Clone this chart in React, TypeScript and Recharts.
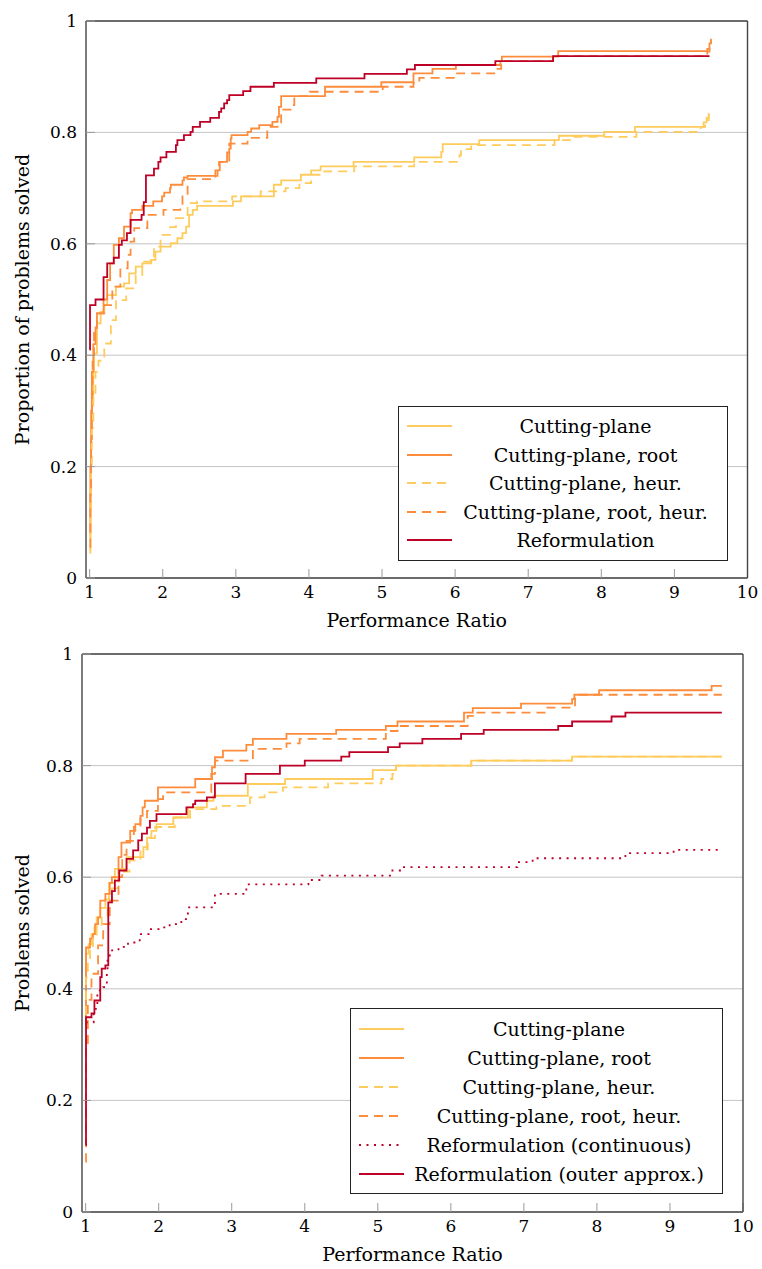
import React from 'react';
import { LineChart, Line, XAxis, YAxis, CartesianGrid, Legend } from 'recharts';

const YELLOW = '#FECC5C';
const ORANGE = '#FD8D3C';
const RED = '#BD0026';
const FONT = '"DejaVu Serif", serif';

const xTicks = [1, 2, 3, 4, 5, 6, 7, 8, 9, 10];
const yTicks = [0, 0.2, 0.4, 0.6, 0.8, 1];

type P = [number, number];

// ---------- Top chart ----------
const p1CuttingPlane: P[] = [[1.0,0.05],[1.01,0.15],[1.02,0.25],[1.03,0.32],[1.05,0.37],[1.06,0.403],[1.1,0.457],[1.15,0.478],[1.2,0.49],[1.24,0.508],[1.36,0.523],[1.47,0.529],[1.54,0.547],[1.63,0.559],[1.72,0.565],[1.84,0.571],[1.9,0.586],[1.97,0.595],[2.11,0.601],[2.2,0.61],[2.27,0.619],[2.32,0.631],[2.36,0.652],[2.41,0.661],[2.47,0.668],[2.96,0.676],[3.07,0.685],[3.52,0.706],[3.62,0.714],[3.89,0.724],[4.03,0.732],[4.16,0.739],[4.61,0.747],[5.44,0.755],[5.81,0.765],[5.83,0.779],[6.33,0.786],[7.42,0.794],[8.04,0.801],[8.46,0.81],[9.4,0.818],[9.44,0.826],[9.47,0.834]];
const p1Root: P[] = [[1.0,0.08],[1.01,0.2],[1.02,0.3],[1.03,0.37],[1.05,0.42],[1.08,0.45],[1.1,0.475],[1.19,0.5],[1.24,0.535],[1.28,0.565],[1.33,0.598],[1.4,0.61],[1.47,0.631],[1.56,0.655],[1.58,0.661],[1.72,0.668],[1.87,0.676],[1.99,0.685],[2.02,0.692],[2.1,0.7],[2.11,0.706],[2.27,0.714],[2.29,0.719],[2.34,0.722],[2.75,0.732],[2.78,0.747],[2.88,0.764],[2.91,0.771],[2.93,0.789],[2.94,0.795],[3.16,0.801],[3.21,0.807],[3.32,0.813],[3.5,0.819],[3.57,0.828],[3.59,0.846],[3.62,0.865],[4.22,0.882],[4.99,0.89],[5.43,0.906],[5.69,0.914],[6.01,0.921],[6.62,0.928],[6.64,0.936],[7.41,0.946],[9.45,0.95],[9.48,0.96],[9.5,0.968]];
const p1Heur: P[] = [[1.0,0.045],[1.01,0.12],[1.02,0.2],[1.03,0.27],[1.05,0.33],[1.08,0.37],[1.12,0.39],[1.2,0.421],[1.29,0.463],[1.36,0.499],[1.5,0.52],[1.63,0.544],[1.72,0.568],[1.88,0.595],[1.97,0.616],[2.1,0.63],[2.18,0.646],[2.34,0.673],[2.47,0.676],[2.95,0.685],[3.34,0.694],[3.68,0.7],[3.87,0.709],[4.03,0.724],[4.21,0.73],[4.62,0.739],[5.44,0.747],[6.06,0.759],[6.08,0.77],[6.22,0.777],[7.36,0.786],[7.63,0.792],[8.48,0.801],[9.36,0.81],[9.42,0.822],[9.47,0.834]];
const p1RootHeur: P[] = [[1.0,0.056],[1.01,0.15],[1.02,0.25],[1.03,0.33],[1.04,0.4],[1.06,0.44],[1.1,0.475],[1.2,0.49],[1.31,0.523],[1.42,0.556],[1.52,0.58],[1.56,0.604],[1.61,0.628],[1.79,0.652],[2.01,0.661],[2.24,0.67],[2.27,0.685],[2.34,0.716],[2.72,0.732],[2.77,0.747],[2.91,0.78],[3.16,0.79],[3.43,0.81],[3.57,0.813],[3.62,0.841],[3.78,0.849],[3.8,0.865],[4.01,0.873],[5.01,0.882],[5.43,0.889],[5.51,0.898],[6.01,0.906],[6.55,0.914],[6.63,0.928],[7.34,0.937],[9.45,0.945],[9.48,0.958],[9.5,0.965]];
const p1Reform: P[] = [[1.0,0.41],[1.005,0.49],[1.08,0.5],[1.19,0.54],[1.24,0.565],[1.33,0.575],[1.4,0.598],[1.44,0.606],[1.51,0.619],[1.56,0.643],[1.71,0.652],[1.74,0.675],[1.77,0.723],[1.88,0.735],[1.94,0.747],[1.97,0.755],[2.05,0.765],[2.18,0.777],[2.2,0.786],[2.29,0.795],[2.38,0.801],[2.41,0.81],[2.51,0.819],[2.65,0.826],[2.77,0.837],[2.8,0.843],[2.84,0.852],[2.88,0.858],[2.91,0.867],[3.1,0.874],[3.2,0.882],[3.52,0.889],[4.1,0.897],[4.76,0.905],[5.34,0.913],[5.45,0.921],[6.55,0.928],[7.34,0.937],[9.48,0.937]];

// ---------- Bottom chart ----------
const p2CuttingPlane: P[] = [[1.0,0.34],[1.005,0.463],[1.04,0.48],[1.08,0.498],[1.12,0.51],[1.15,0.528],[1.2,0.545],[1.27,0.56],[1.32,0.59],[1.4,0.615],[1.56,0.636],[1.79,0.654],[1.84,0.671],[1.9,0.683],[1.97,0.695],[2.2,0.707],[2.4,0.725],[2.66,0.737],[2.75,0.746],[3.22,0.767],[3.73,0.776],[4.93,0.792],[5.25,0.8],[6.28,0.809],[7.66,0.816],[9.71,0.816]];
const p2Root: P[] = [[1.0,0.33],[1.005,0.474],[1.06,0.49],[1.1,0.498],[1.13,0.516],[1.17,0.528],[1.2,0.558],[1.27,0.57],[1.33,0.59],[1.36,0.6],[1.45,0.636],[1.49,0.662],[1.61,0.683],[1.68,0.695],[1.75,0.71],[1.78,0.725],[1.81,0.737],[1.99,0.761],[2.5,0.776],[2.73,0.797],[2.77,0.815],[2.88,0.827],[3.2,0.837],[3.29,0.848],[3.75,0.857],[4.43,0.864],[5.11,0.871],[5.27,0.879],[6.18,0.895],[6.3,0.903],[6.96,0.911],[7.66,0.919],[7.69,0.927],[8.03,0.935],[9.57,0.943],[9.71,0.943]];
const p2Heur: P[] = [[1.0,0.3],[1.005,0.42],[1.03,0.45],[1.06,0.475],[1.1,0.49],[1.15,0.51],[1.22,0.53],[1.3,0.555],[1.36,0.58],[1.45,0.61],[1.6,0.63],[1.75,0.65],[1.85,0.67],[1.95,0.69],[2.22,0.707],[2.43,0.722],[2.79,0.728],[3.25,0.743],[3.45,0.752],[3.7,0.761],[4.32,0.768],[5.05,0.776],[5.2,0.785],[5.25,0.8],[6.28,0.809],[7.66,0.816],[9.71,0.816]];
const p2RootHeur: P[] = [[1.0,0.09],[1.005,0.3],[1.03,0.38],[1.08,0.427],[1.17,0.478],[1.24,0.516],[1.33,0.558],[1.45,0.6],[1.5,0.64],[1.56,0.665],[1.66,0.69],[1.75,0.705],[1.84,0.719],[1.99,0.74],[2.06,0.752],[2.72,0.785],[2.77,0.809],[3.29,0.83],[3.75,0.84],[3.93,0.848],[5.11,0.862],[5.27,0.871],[6.23,0.889],[6.32,0.895],[7.3,0.904],[7.7,0.927],[9.71,0.927]];
const p2Continuous: P[] = [[1.0,0.34],[1.11,0.364],[1.16,0.397],[1.24,0.403],[1.29,0.43],[1.3,0.457],[1.33,0.469],[1.45,0.475],[1.58,0.483],[1.74,0.498],[1.88,0.507],[2.02,0.51],[2.15,0.516],[2.31,0.525],[2.4,0.546],[2.77,0.57],[3.2,0.587],[4.05,0.595],[4.23,0.603],[5.2,0.612],[5.34,0.618],[6.91,0.627],[7.12,0.634],[8.39,0.643],[9.05,0.649],[9.7,0.649]];
const p2Outer: P[] = [[1.0,0.12],[1.005,0.349],[1.08,0.356],[1.12,0.379],[1.2,0.421],[1.22,0.436],[1.27,0.442],[1.31,0.555],[1.36,0.575],[1.4,0.594],[1.46,0.612],[1.56,0.633],[1.65,0.648],[1.72,0.666],[1.77,0.678],[1.84,0.689],[1.88,0.701],[1.97,0.713],[2.38,0.725],[2.47,0.731],[2.5,0.737],[2.66,0.743],[2.77,0.768],[3.19,0.785],[3.66,0.8],[4.0,0.809],[4.5,0.816],[4.61,0.824],[5.14,0.833],[5.3,0.84],[5.61,0.848],[6.14,0.857],[6.45,0.864],[7.47,0.871],[7.66,0.879],[8.2,0.888],[8.39,0.895],[9.71,0.895]];

type Series = { name: string; data: P[]; color: string; dash?: string; width: number };

const DASH = '9 6';
const DOT = '2 5.5';

const series1: Series[] = [
  { name: 'Cutting-plane', data: p1CuttingPlane, color: YELLOW, width: 1.8 },
  { name: 'Cutting-plane, root', data: p1Root, color: ORANGE, width: 1.8 },
  { name: 'Cutting-plane, heur.', data: p1Heur, color: YELLOW, dash: DASH, width: 1.8 },
  { name: 'Cutting-plane, root, heur.', data: p1RootHeur, color: ORANGE, dash: DASH, width: 1.8 },
  { name: 'Reformulation', data: p1Reform, color: RED, width: 1.8 },
];

const series2: Series[] = [
  { name: 'Cutting-plane', data: p2CuttingPlane, color: YELLOW, width: 1.8 },
  { name: 'Cutting-plane, root', data: p2Root, color: ORANGE, width: 1.8 },
  { name: 'Cutting-plane, heur.', data: p2Heur, color: YELLOW, dash: DASH, width: 1.8 },
  { name: 'Cutting-plane, root, heur.', data: p2RootHeur, color: ORANGE, dash: DASH, width: 1.8 },
  { name: 'Reformulation (continuous)', data: p2Continuous, color: RED, dash: DOT, width: 1.8 },
  { name: 'Reformulation (outer approx.)', data: p2Outer, color: RED, width: 1.8 },
];

const toPts = (arr: P[]) => arr.map(([x, y]) => ({ x, y }));

const tickStyle = { fill: '#000', fontSize: 17, fontFamily: FONT };
const axisLineStyle = { stroke: '#444', strokeWidth: 1.4 };
const tickLineStyle = { stroke: '#999', strokeWidth: 1 };

function makeLegend(items: Series[], width: number, rowH: number) {
  return () => (
    <div
      style={{
        border: '1px solid #222',
        background: '#fff',
        width,
        boxSizing: 'border-box',
        padding: '5px 8px',
        fontFamily: FONT,
        fontSize: 19,
        color: '#000',
      }}
    >
      {items.map((s) => (
        <div key={s.name} style={{ display: 'flex', alignItems: 'center', height: rowH }}>
          <svg width={45} height={10} style={{ flex: 'none' }}>
            <line x1={0} y1={5} x2={45} y2={5} stroke={s.color} strokeWidth={s.width} strokeDasharray={s.dash} />
          </svg>
          <div style={{ flex: 1, textAlign: 'center', whiteSpace: 'nowrap' }}>{s.name}</div>
        </div>
      ))}
    </div>
  );
}

type ChartProps = {
  series: Series[];
  height: number;
  margin: { top: number; right: number; bottom: number; left: number };
  yLabel: string;
  yLabelOffset: number;
  xLabelOffset: number;
  legendPos: { left: number; top: number; width: number; rowH: number };
};

function ProfileChart({ series, height, margin, yLabel, yLabelOffset, xLabelOffset, legendPos }: ChartProps) {
  return (
    <LineChart width={762} height={height} margin={margin}>
      <CartesianGrid vertical={false} stroke="#c4c4c4" strokeWidth={1} xAxisId="b" yAxisId="l" />
      <XAxis
        xAxisId="b"
        type="number"
        dataKey="x"
        domain={[0.95, 10]}
        allowDataOverflow
        ticks={xTicks}
        interval={0}
        height={30}
        tickSize={-9}
        tickMargin={17}
        tick={tickStyle}
        axisLine={axisLineStyle}
        tickLine={tickLineStyle}
        label={{ value: 'Performance Ratio', position: 'bottom', offset: xLabelOffset, style: { fill: '#000', fontSize: 19, fontFamily: FONT } }}
      />
      <XAxis
        xAxisId="t"
        orientation="top"
        type="number"
        dataKey="x"
        domain={[0.95, 10]}
        allowDataOverflow
        ticks={xTicks}
        interval={0}
        height={1}
        tickSize={-9}
        tick={false}
        axisLine={axisLineStyle}
        tickLine={tickLineStyle}
      />
      <YAxis
        yAxisId="l"
        type="number"
        domain={[0, 1]}
        ticks={yTicks}
        interval={0}
        width={50}
        tickSize={-9}
        tickMargin={18}
        tick={tickStyle}
        axisLine={axisLineStyle}
        tickLine={tickLineStyle}
        label={{ value: yLabel, angle: -90, position: 'left', offset: yLabelOffset, style: { fill: '#000', fontSize: 19, fontFamily: FONT, textAnchor: 'middle' } }}
      />
      <YAxis
        yAxisId="r"
        orientation="right"
        type="number"
        domain={[0, 1]}
        ticks={yTicks}
        interval={0}
        width={1}
        tickSize={-9}
        tick={false}
        axisLine={axisLineStyle}
        tickLine={tickLineStyle}
      />
      {series.map((s) => (
        <Line
          key={s.name}
          xAxisId="b"
          yAxisId="l"
          name={s.name}
          data={toPts(s.data)}
          dataKey="y"
          type="stepAfter"
          stroke={s.color}
          strokeWidth={s.width}
          strokeDasharray={s.dash}
          dot={false}
          activeDot={false}
          isAnimationActive={false}
        />
      ))}
      <Legend
        layout="vertical"
        align="center"
        verticalAlign="middle"
        wrapperStyle={{ left: legendPos.left, top: legendPos.top, width: legendPos.width }}
        content={makeLegend(series, legendPos.width, legendPos.rowH)}
      />
    </LineChart>
  );
}

export default function App() {
  return (
    <div style={{ position: 'absolute', left: 0, top: 0, width: 762, height: 1269, background: '#fff' }}>
      <div style={{ position: 'absolute', left: 0, top: 0 }}>
        <ProfileChart
          series={series1}
          height={640}
          margin={{ top: 20, right: 13.5, bottom: 32, left: 36 }}
          yLabel="Proportion of problems solved"
          yLabelOffset={14}
          xLabelOffset={6}
          legendPos={{ left: 398, top: 406, width: 330, rowH: 28.5 }}
        />
      </div>
      <div style={{ position: 'absolute', left: 0, top: 640 }}>
        <ProfileChart
          series={series2}
          height={629}
          margin={{ top: 13, right: 18, bottom: 27, left: 32 }}
          yLabel="Problems solved"
          yLabelOffset={10}
          xLabelOffset={6}
          legendPos={{ left: 350, top: 368, width: 373, rowH: 29 }}
        />
      </div>
    </div>
  );
}
